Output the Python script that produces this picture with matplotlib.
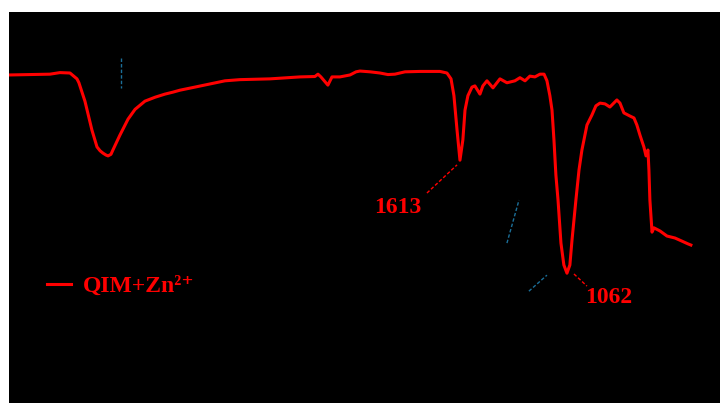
import matplotlib
matplotlib.use("Agg")
import matplotlib.pyplot as plt

# FT-IR spectrum of QIM+Zn2+
wavenumber = [3930, 3724, 3673, 3621, 3585, 3575, 3544, 3508, 3482, 3466, 3451, 3435,
              3425, 3410, 3400, 3364, 3322, 3286, 3235, 3183, 3132, 3091, 3055, 2977,
              2900, 2823, 2746, 2591, 2437, 2360, 2344, 2329, 2293, 2272, 2231, 2179,
              2148, 2128, 2076, 2025, 1984, 1948, 1896, 1819, 1716, 1680, 1659, 1644,
              1628, 1613, 1598, 1587, 1572, 1551, 1536, 1510, 1495, 1474, 1443, 1407,
              1371, 1330, 1304, 1278, 1253, 1227, 1201, 1180, 1165, 1150, 1139, 1129,
              1119, 1108, 1093, 1078, 1062, 1047, 1036, 1016, 1000, 985, 959, 933,
              913, 892, 866, 841, 815, 805, 789, 769, 738, 717, 702, 686, 666, 655,
              645, 640, 635, 624, 614, 583, 547, 506, 470, 439, 424]
transmittance = [83.9, 84.1, 84.5, 84.4, 82.9, 81.9, 77.2, 69.8, 65.5, 64.5, 63.9, 63.4,
                 63.2, 63.6, 64.7, 68.5, 72.6, 75.1, 77.2, 78.2, 79.0, 79.5, 80.0, 80.8,
                 81.6, 82.4, 82.7, 82.9, 83.4, 83.5, 84.1, 83.4, 81.3, 83.4, 83.4, 83.9,
                 84.7, 84.9, 84.7, 84.4, 84.0, 84.1, 84.7, 84.8, 84.8, 84.4, 82.9, 78.6,
                 69.8, 62.1, 67.3, 74.9, 78.6, 80.8, 81.1, 79.0, 81.1, 82.4, 80.6, 82.9,
                 81.9, 82.4, 83.2, 82.4, 83.6, 83.4, 84.1, 84.1, 82.4, 78.6, 74.9, 67.3,
                 58.3, 51.9, 40.9, 35.3, 33.2, 35.3, 41.7, 51.9, 59.6, 64.7, 71.1, 73.7,
                 76.0, 76.7, 76.5, 75.7, 77.0, 77.5, 76.7, 74.2, 73.4, 72.9, 71.1, 68.5,
                 65.5, 63.2, 64.7, 59.6, 51.9, 43.7, 44.8, 44.0, 42.7, 42.2, 41.4, 40.7,
                 40.4]

# labelled peaks: (label, text position, leader line start/end)
peak_labels = ["1613", "1062"]
peak_text_pos = [(1932, 50.1), (846, 26.9)]
peak_leaders = [((1783, 53.7), (1628, 60.9)), ((1026, 33.0), (959, 29.9))]

# faint blue dashed guide marks
guide_marks = [((3358, 88.2), (3358, 80.6)),
               ((1371, 40.9), (1309, 51.9)),
               ((1258, 28.6), (1165, 32.7))]

RED = "#ff0000"
BLUE = "#1b6f99"

plt.rcParams["font.family"] = ["Liberation Serif", "DejaVu Serif"]

fig = plt.figure(figsize=(7.2, 4.03), dpi=100, facecolor="white")
ax = fig.add_axes([9 / 720, 0, 711 / 720, 391 / 403])
ax.set_facecolor("black")

ax.plot(wavenumber, transmittance, color=RED, lw=2.2, solid_joinstyle="round",
        label="QIM+Zn²⁺")

for lab, (tx, ty), (p0, p1) in zip(peak_labels, peak_text_pos, peak_leaders):
    ax.plot([p0[0], p1[0]], [p0[1], p1[1]], ls=(0, (2.5, 1.5)), color=RED, lw=1.0)
    ax.text(tx, ty, lab, color=RED, fontsize=17, fontweight="bold",
            ha="center", va="center")

for p0, p1 in guide_marks:
    ax.plot([p0[0], p1[0]], [p0[1], p1[1]], ls=(0, (2.5, 1.5)), color=BLUE, lw=1.0)

ax.set_xlim(3935, 274)
ax.set_ylim(0, 100)
ax.set_xticks([]); ax.set_yticks([])
for s in ax.spines.values():
    s.set_visible(False)

ax.legend(loc="center left", bbox_to_anchor=(0.0534, 0.299), frameon=False,
          borderaxespad=0, borderpad=0, handlelength=1.0, handletextpad=0.5,
          labelcolor=RED, prop={"size": 17, "weight": "bold"})

fig.savefig("out.png", dpi=100, facecolor="white")
